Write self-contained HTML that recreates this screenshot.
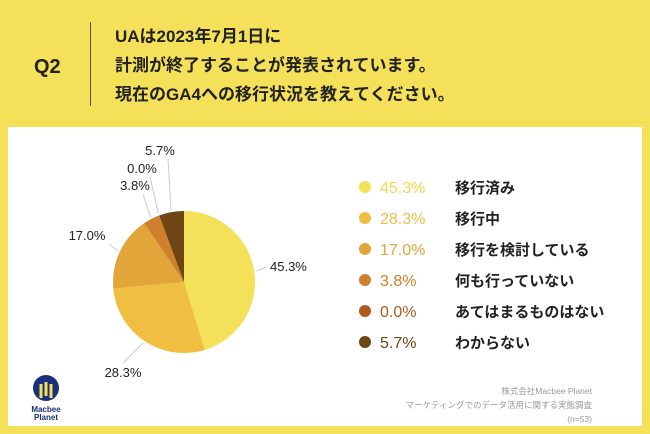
<!DOCTYPE html>
<html><head><meta charset="utf-8">
<style>
body{margin:0;width:650px;height:434px;background:#f5e05a;font-family:"Liberation Sans","Noto Sans CJK JP",sans-serif;overflow:hidden;position:relative}
.panel{position:absolute;left:8px;top:127px;width:634px;height:299px;background:#fff}
.q{position:absolute;left:34px;top:56px;font-size:20px;font-weight:bold;color:#222}
.sep{position:absolute;left:90px;top:22px;width:1px;height:84px;background:#555}
.title{position:absolute;left:115px;top:22px;font-size:17px;font-weight:bold;line-height:29px;color:#222}
.src{position:absolute;right:58px;top:384px;font-size:8.5px;color:#999;text-align:right;line-height:14px}
.logo{position:absolute;left:22px;top:374px;width:48px;text-align:center;font-size:8px;font-weight:bold;color:#1b2f7a;line-height:8px}
</style></head><body>
<div class="q">Q2</div>
<div class="sep"></div>
<div class="title">UAは2023年7月1日に<br>計測が終了することが発表されています。<br>現在のGA4への移行状況を教えてください。</div>
<div class="panel"></div>
<svg id="chart" width="650" height="434" style="position:absolute;left:0;top:0"></svg>
<div class="logo"><svg width="26" height="30" viewBox="0 0 26 30"><circle cx="13" cy="14" r="13" fill="#1b2f7a"/><path d="M8 24V10M13 22V8M18 24V10" stroke="#f5e05a" stroke-width="3"/></svg><br>Macbee<br>Planet</div>
<div class="src">株式会社Macbee Planet<br>マーケティングでのデータ活用に関する実態調査<br>(n=53)</div>
<script>
const categories=["移行済み","移行中","移行を検討している","何も行っていない","あてはまるものはない","わからない"];
const values=[45.3,28.3,17.0,3.8,0.0,5.7];
const colors=["#f5e05a","#f0bf42","#e1a53a","#d07f2c","#b05a20","#6e4616"];
const NS="http://www.w3.org/2000/svg";
const svg=document.getElementById('chart');
const cx=184,cy=282,r=71;
const total=values.reduce((a,b)=>a+b,0);
function ang(v){return v/total*2*Math.PI-Math.PI/2;}
function pt(a,rr){return [cx+rr*Math.cos(a),cy+rr*Math.sin(a)];}
// label layout (centers / baselines), not data
const labelPos=[[270,271],[123,377],[87,240],[135,190],[142,173],[160,155]];
let acc=0;
values.forEach((v,i)=>{
  const a0=ang(acc),a1=ang(acc+v);acc+=v;
  if(v>0){
    const p0=pt(a0,r),p1=pt(a1,r);const large=(a1-a0)>Math.PI?1:0;
    const p=document.createElementNS(NS,'path');
    p.setAttribute('d',`M${cx},${cy}L${p0[0]},${p0[1]}A${r},${r} 0 ${large} 1 ${p1[0]},${p1[1]}Z`);
    p.setAttribute('fill',colors[i]);
    
    
    svg.appendChild(p);
  }
  const am=(a0+a1)/2;const e=pt(am,r+2);const lp=labelPos[i];
  const right=lp[0]>cx+40;
  const ln=document.createElementNS(NS,'line');
  ln.setAttribute('x1',e[0]);ln.setAttribute('y1',e[1]);
  ln.setAttribute('x2',right?lp[0]-4:(lp[1]>cy?lp[0]:lp[0]+(i==2?22:8)));
  ln.setAttribute('y2',right?lp[1]-4:(lp[1]>cy?lp[1]-14:lp[1]+4));
  ln.setAttribute('stroke','#ccc');ln.setAttribute('stroke-width','1');
  
  
  svg.appendChild(ln);
  const t=document.createElementNS(NS,'text');
  t.setAttribute('x',lp[0]);t.setAttribute('y',lp[1]);
  t.setAttribute('font-size','13');t.setAttribute('fill','#222');
  t.setAttribute('text-anchor',right?'start':'middle');
  t.textContent=v.toFixed(1)+'%';
  
  
  svg.appendChild(t);
  const y=187+i*31;
  const c=document.createElementNS(NS,'circle');
  c.setAttribute('cx',365);c.setAttribute('cy',y);c.setAttribute('r',6);c.setAttribute('fill',colors[i]);
  
  
  svg.appendChild(c);
  const tp=document.createElementNS(NS,'text');
  tp.setAttribute('x',380);tp.setAttribute('y',y+6);tp.setAttribute('font-size','16');tp.setAttribute('fill',colors[i]==="#f5e05a"?"#f2d94a":colors[i]);
  tp.textContent=v.toFixed(1)+'%';
  
  
  svg.appendChild(tp);
  const tl=document.createElementNS(NS,'text');
  tl.setAttribute('x',455);tl.setAttribute('y',y+6);tl.setAttribute('font-size','15');tl.setAttribute('font-weight','bold');tl.setAttribute('fill','#222');
  tl.textContent=categories[i];
  
  
  svg.appendChild(tl);
});
</script>
</body></html>
